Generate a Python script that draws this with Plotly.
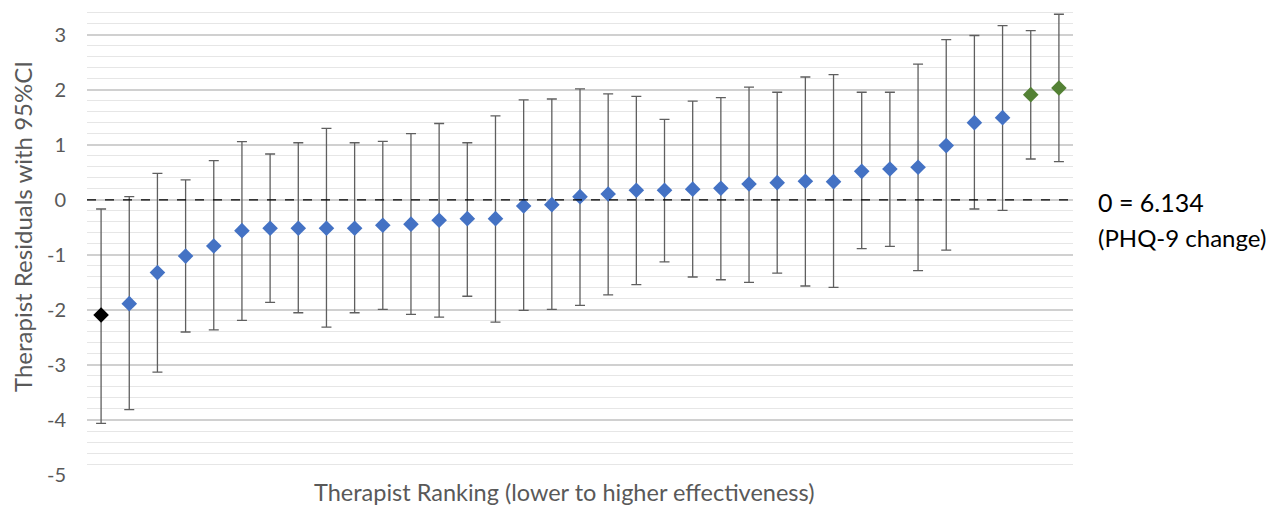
import plotly.graph_objects as go

# Therapist ranking (1 = lowest effectiveness)
rank = list(range(1, 36))
residual = [-2.09, -1.885, -1.32, -1.02, -0.836, -0.558, -0.515, -0.515, -0.515, -0.515,
            -0.46, -0.44, -0.37, -0.34, -0.34, -0.11, -0.085, 0.06, 0.109, 0.176,
            0.176, 0.197, 0.212, 0.29, 0.315, 0.34, 0.333, 0.52, 0.564, 0.594,
            0.988, 1.406, 1.497, 1.915, 2.036]
ci_upper = [-0.164, 0.06, 0.485, 0.364, 0.715, 1.06, 0.836, 1.04, 1.30, 1.04,
            1.067, 1.206, 1.39, 1.04, 1.53, 1.82, 1.836, 2.02, 1.93, 1.885,
            1.467, 1.797, 1.86, 2.05, 1.958, 2.236, 2.28, 1.958, 1.958, 2.47,
            2.915, 2.99, 3.17, 3.08, 3.376]
ci_lower = [-4.06, -3.81, -3.13, -2.40, -2.36, -2.19, -1.86, -2.05, -2.31, -2.05,
            -1.99, -2.08, -2.13, -1.75, -2.22, -2.006, -1.99, -1.915, -1.727, -1.54,
            -1.127, -1.40, -1.45, -1.497, -1.33, -1.564, -1.588, -0.885, -0.842, -1.285,
            -0.91, -0.164, -0.188, 0.745, 0.697]
group = ["low"] + ["mid"] * 32 + ["high"] * 2
y_ticks = [3, 2, 1, 0, -1, -2, -3, -4, -5]

group_colors = {"low": "#000000", "mid": "#4472C4", "high": "#548235"}
colors = [group_colors[g] for g in group]
err_plus = [u - v for u, v in zip(ci_upper, residual)]
err_minus = [v - l for v, l in zip(residual, ci_lower)]

FONT = "Lato, 'Open Sans', sans-serif"
GREY = "#595959"

# page offset of the plot div (body margin) is ~8px
def px(page_x):
    return (page_x - 87) / 986

def py(page_y):
    return (475 - page_y) / 467

fig = go.Figure()
fig.add_trace(go.Scatter(
    x=rank, y=residual, mode="markers",
    marker=dict(symbol="diamond", size=12, color=colors, line=dict(width=0)),
    error_y=dict(type="data", symmetric=False, array=err_plus, arrayminus=err_minus,
                 color="#5f5f5f", thickness=1.3, width=5),
    showlegend=False,
))

fig.add_shape(type="line", xref="paper", yref="y", x0=0, x1=1, y0=0, y1=0,
              line=dict(color="#000000", width=1.3, dash="dash"), layer="above")

fig.update_layout(
    width=1285, height=514,
    margin=dict(l=79, r=220, t=0, b=47),
    paper_bgcolor="white", plot_bgcolor="white",
    font=dict(family=FONT, color=GREY),
    xaxis=dict(range=[0.5, 35.5], showticklabels=False, showgrid=False, zeroline=False,
               showline=False, ticks=""),
    yaxis=dict(range=[-5, 3.49], tickvals=y_ticks, ticktext=[str(t) for t in y_ticks],
               tickfont=dict(size=20, color=GREY, family=FONT),
               showgrid=True, gridcolor="#d0d0d0", gridwidth=1.5,
               zeroline=False, showline=False, ticks="", ticklabelstandoff=20,
               minor=dict(dtick=0.2, tick0=0, showgrid=True, gridcolor="#e6e6e6", gridwidth=1)),
    annotations=[
        dict(text="Therapist Residuals with 95%CI", xref="paper", yref="paper",
             x=px(22), y=py(227), textangle=-90, showarrow=False,
             xanchor="center", yanchor="middle", font=dict(size=24, color=GREY, family=FONT)),
        dict(text="Therapist Ranking (lower to higher effectiveness)", xref="paper", yref="paper",
             x=px(563.5), y=py(492), showarrow=False, xanchor="center", yanchor="middle",
             font=dict(size=23.5, color=GREY, family=FONT)),
        dict(text="0 = 6.134", xref="paper", yref="paper", x=px(1096),
             y=py(202), showarrow=False, xanchor="left", yanchor="middle",
             font=dict(size=25, color="#000000", family=FONT)),
        dict(text="(PHQ-9 change)", xref="paper", yref="paper", x=px(1096),
             y=py(237), showarrow=False, xanchor="left", yanchor="middle",
             font=dict(size=24, color="#000000", family=FONT)),
    ],
)

fig.write_html("out.html")
